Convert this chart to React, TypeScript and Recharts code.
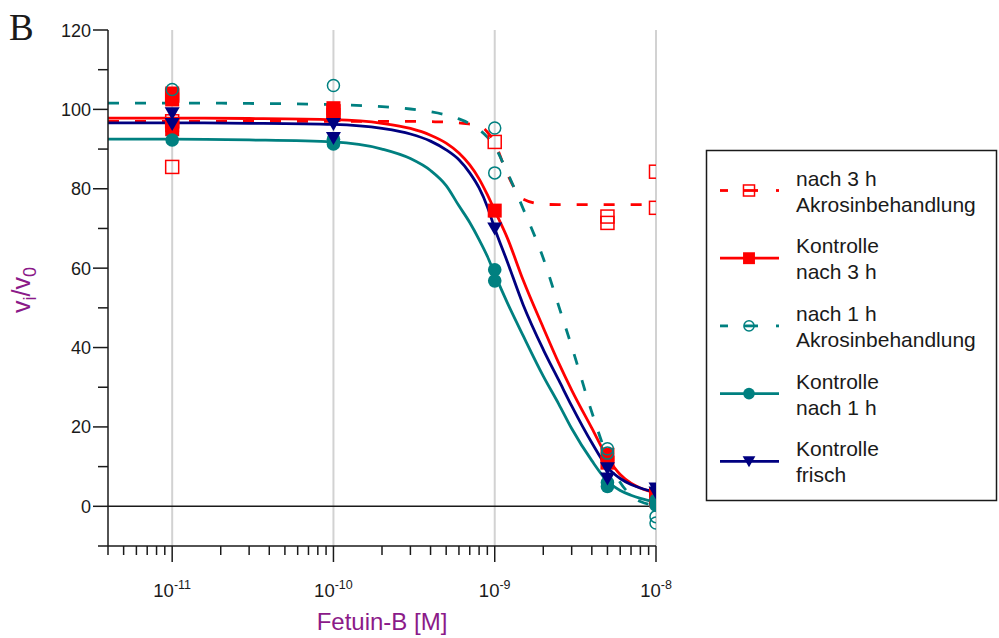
import React from 'react'
import { ComposedChart, Line, Scatter, XAxis, YAxis, ReferenceLine } from 'recharts'

const RED = '#ff0000'
const TEAL = '#008080'
const NAVY = '#000080'
const PURPLE = '#8b1a89'
const INK = '#1a1a1a'
const FONT = '"Liberation Sans", Arial, sans-serif'

// fitted curves at these concentrations [M]
const FIT_X = [
  4e-12, 1e-11, 3e-11, 1e-10, 2e-10, 3e-10, 4e-10, 5e-10, 6e-10, 7e-10, 8e-10, 9e-10,
  1e-9, 1.2e-9, 1.5e-9, 2e-9, 2.5e-9, 3e-9, 4e-9, 5e-9, 6e-9, 7e-9, 8e-9, 1e-8,
]
const FIT_AKRO_3H = [
  97.0, 97.0, 97.0, 97.0, 97.0, 97.0, 96.9, 96.8, 96.6, 96.3, 96.0, 94.3,
  91.5, 83.6, 77.4, 76.1, 76.0, 76.0, 76.0, 76.0, 76.0, 76.0, 76.0, 76.0,
]
const FIT_KONTROLLE_3H = [
  97.8, 97.8, 97.7, 97.4, 96.5, 95.2, 93.5, 91.5, 89.0, 86.0, 82.5, 78.5,
  74.5, 67.5, 57.0, 45.0, 36.0, 29.3, 19.7, 12.3, 8.0, 5.8, 4.6, 3.3,
]
const FIT_AKRO_1H = [
  101.6, 101.6, 101.5, 101.2, 100.7, 100.1, 99.4, 98.6, 97.6, 96.4, 94.9, 93.0,
  90.6, 84.0, 75.0, 62.5, 50.3, 40.3, 23.7, 12.5, 6.0, 2.8, 1.2, 0.3,
]
const FIT_KONTROLLE_1H = [
  92.5, 92.5, 92.3, 91.8, 90.0, 87.6, 84.6, 80.8, 75.7, 71.5, 67.2, 63.0,
  58.5, 51.2, 43.0, 32.8, 25.7, 19.6, 11.5, 6.3, 4.0, 2.8, 2.0, 1.0,
]
const FIT_FRISCH = [
  96.6, 96.6, 96.5, 96.2, 95.2, 93.8, 92.0, 89.8, 87.3, 84.0, 80.2, 75.5,
  70.0, 61.5, 50.8, 39.5, 31.7, 25.3, 16.0, 9.8, 7.0, 5.5, 4.6, 3.5,
]

// measured points [conc, vi/v0]
const PTS_AKRO_3H = [
  [1e-11, 85.5], [1e-11, 97.0], [1e-11, 103.5], [1e-10, 99.5],
  [1e-9, 91.8], [5e-9, 73.0], [5e-9, 71.4], [1e-8, 84.3], [1e-8, 75.2],
]
const PTS_KONTROLLE_3H = [
  [1e-11, 104.0], [1e-11, 102.5], [1e-11, 96.0], [1e-11, 95.0], [1e-10, 100.3], [1e-10, 98.6],
  [1e-9, 74.5], [5e-9, 13.0], [5e-9, 11.0], [1e-8, 3.0], [1e-8, 1.5],
]
const PTS_AKRO_1H = [
  [1e-11, 105.0], [1e-10, 106.0], [1e-9, 95.3], [1e-9, 84.0],
  [5e-9, 14.5], [5e-9, 13.4], [1e-8, -2.6], [1e-8, -4.2],
]
const PTS_KONTROLLE_1H = [
  [1e-11, 92.3], [1e-10, 92.5], [1e-10, 91.3], [1e-9, 59.6], [1e-9, 56.8],
  [5e-9, 6.0], [5e-9, 5.0], [1e-8, 1.5], [1e-8, 0.3],
]
const PTS_FRISCH = [
  [1e-11, 99.0], [1e-11, 96.3], [1e-10, 96.3], [1e-10, 92.8], [1e-9, 70.0],
  [5e-9, 9.6], [5e-9, 7.0], [1e-8, 4.5], [1e-8, 3.5],
]

const X_DECADES = [1e-11, 1e-10, 1e-9, 1e-8]
const X_EXPONENTS = [-12, -11, -10, -9]
const X_MANTISSAS = [1, 2, 3, 4, 5, 6, 7, 8, 9]
const X_TICKS = [
  ...X_EXPONENTS.flatMap((e) => X_MANTISSAS.map((m) => m * Math.pow(10, e))).filter((v) => v >= 4e-12 * 0.999),
  1e-8,
]
const Y_TICKS = [-10, 0, 10, 20, 30, 40, 50, 60, 70, 80, 90, 100, 110, 120]
const Y_LABELED = [0, 20, 40, 60, 80, 100, 120]

type MarkerKind = 'openSquare' | 'square' | 'openCircle' | 'circle' | 'triangle'

const SERIES: {
  key: string
  lines: string[]
  color: string
  dashed: boolean
  marker: MarkerKind
  fit: number[]
  points: number[][]
}[] = [
  { key: 'akro3h', lines: ['nach 3 h', 'Akrosinbehandlung'], color: RED, dashed: true, marker: 'openSquare', fit: FIT_AKRO_3H, points: PTS_AKRO_3H },
  { key: 'kontrolle3h', lines: ['Kontrolle', 'nach 3 h'], color: RED, dashed: false, marker: 'square', fit: FIT_KONTROLLE_3H, points: PTS_KONTROLLE_3H },
  { key: 'akro1h', lines: ['nach 1 h', 'Akrosinbehandlung'], color: TEAL, dashed: true, marker: 'openCircle', fit: FIT_AKRO_1H, points: PTS_AKRO_1H },
  { key: 'kontrolle1h', lines: ['Kontrolle', 'nach 1 h'], color: TEAL, dashed: false, marker: 'circle', fit: FIT_KONTROLLE_1H, points: PTS_KONTROLLE_1H },
  { key: 'frisch', lines: ['Kontrolle', 'frisch'], color: NAVY, dashed: false, marker: 'triangle', fit: FIT_FRISCH, points: PTS_FRISCH },
]

const fitRows = FIT_X.map((x, i) => {
  const row: Record<string, number> = { x }
  SERIES.forEach((s) => {
    row[s.key] = s.fit[i]
  })
  return row
})

function Marker({ kind, cx, cy, color, scale = 1 }: { kind: MarkerKind; cx: number; cy: number; color: string; scale?: number }) {
  const s = scale
  switch (kind) {
    case 'openSquare':
      return <rect x={cx - 6.5 * s} y={cy - 6.5 * s} width={13 * s} height={13 * s} fill="none" stroke={color} strokeWidth={1.5} />
    case 'square':
      return <rect x={cx - 7 * s} y={cy - 7 * s} width={14 * s} height={14 * s} fill={color} />
    case 'openCircle':
      return <circle cx={cx} cy={cy} r={6 * s} fill="none" stroke={color} strokeWidth={1.5} />
    case 'circle':
      return <circle cx={cx} cy={cy} r={6.8 * s} fill={color} />
    default:
      return (
        <path
          d={`M${cx - 7.5 * s},${cy - 6 * s} L${cx + 7.5 * s},${cy - 6 * s} L${cx},${cy + 7 * s} Z`}
          fill={color}
        />
      )
  }
}

function XTick(props: any) {
  const { x, y, payload } = props
  const v = payload.value as number
  const exp = Math.round(Math.log10(v))
  const major = Math.abs(Math.log10(v) - exp) < 1e-6
  return (
    <g>
      <line x1={x} x2={x} y1={y} y2={y + (major ? 16 : 9)} stroke={INK} strokeWidth={1.5} />
      {major && (
        <text x={x} y={y + 51} textAnchor="middle" fontSize={18.5} fill={INK} fontFamily={FONT}>
          10
          <tspan dy={-8} fontSize={12.5}>
            {`${exp}`}
          </tspan>
        </text>
      )}
    </g>
  )
}

function YTick(props: any) {
  const { x, y, payload } = props
  const v = payload.value as number
  const major = Y_LABELED.includes(v)
  return (
    <g>
      <line x1={x - (major ? 15 : 10)} x2={x} y1={y} y2={y} stroke={INK} strokeWidth={1.5} />
      {major && (
        <text x={x - 17} y={y + 6.5} textAnchor="end" fontSize={18} fill={INK} fontFamily={FONT}>
          {v}
        </text>
      )}
    </g>
  )
}

function Legend() {
  const top = 190.5
  const step = 67.7
  return (
    <svg width={999} height={638} style={{ position: 'absolute', left: 0, top: 0, pointerEvents: 'none' }}>
      <rect x={706.5} y={150.5} width={290} height={350} fill="none" stroke={INK} strokeWidth={1.5} />
      {SERIES.map((s, i) => {
        const cy = top + i * step
        return (
          <g key={s.key}>
            {s.dashed ? (
              <g stroke={s.color} strokeWidth={2.8}>
                <line x1={720} x2={728} y1={cy} y2={cy} />
                <line x1={744} x2={758} y1={cy} y2={cy} />
                <line x1={776} x2={779} y1={cy} y2={cy} />
              </g>
            ) : (
              <line x1={720} x2={779} y1={cy} y2={cy} stroke={s.color} strokeWidth={2.8} />
            )}
            <Marker kind={s.marker} cx={749} cy={cy} color={s.color} scale={0.85} />
            <text x={796} y={cy - 5} fontSize={21} fill={INK} fontFamily={FONT}>
              {s.lines[0]}
            </text>
            <text x={796} y={cy + 21} fontSize={21} fill={INK} fontFamily={FONT}>
              {s.lines[1]}
            </text>
          </g>
        )
      })}
      <text x={9} y={40} fontSize={37} fill={INK} fontFamily='"Liberation Serif", "Times New Roman", serif'>
        B
      </text>
    </svg>
  )
}

export default function App() {
  return (
    <div style={{ position: 'absolute', left: 0, top: 0, width: 999, height: 638, background: '#fff' }}>
      <ComposedChart width={999} height={638} margin={{ top: 30, right: 343, bottom: 0, left: 0 }}>
        <XAxis
          dataKey="x"
          type="number"
          scale="log"
          domain={[4e-12, 1e-8]}
          allowDataOverflow
          ticks={X_TICKS}
          interval={0}
          tickSize={0}
          tickMargin={0}
          tick={(p: any) => <XTick {...p} />}
          height={92}
          axisLine={{ stroke: INK, strokeWidth: 1.5 }}
          label={{
            content: () => (
              <text x={382} y={630} textAnchor="middle" fontSize={24} fill={PURPLE} fontFamily={FONT}>
                Fetuin-B [M]
              </text>
            ),
          }}
        />
        <YAxis
          dataKey="y"
          type="number"
          domain={[-10, 120]}
          allowDataOverflow
          ticks={Y_TICKS}
          interval={0}
          tickSize={0}
          tickMargin={0}
          tick={(p: any) => <YTick {...p} />}
          width={108}
          axisLine={{ stroke: INK, strokeWidth: 1.5 }}
          label={{
            content: () => (
              <text
                x={30}
                y={290}
                transform="rotate(-90 30 290)"
                textAnchor="middle"
                fontSize={25}
                fill={PURPLE}
                fontFamily={FONT}
              >
                v<tspan dy={6} fontSize={18}>i</tspan>
                <tspan dy={-6}>/v</tspan>
                <tspan dy={6} fontSize={18}>0</tspan>
              </text>
            ),
          }}
        />
        {X_DECADES.map((d) => (
          <ReferenceLine key={d} x={d} stroke="#d2d2d2" strokeWidth={2} />
        ))}
        <ReferenceLine y={0} stroke={INK} strokeWidth={1.5} />
        {SERIES.map((s) => (
          <Line
            key={`fit-${s.key}`}
            data={fitRows}
            dataKey={s.key}
            type="monotone"
            stroke={s.color}
            strokeWidth={2.8}
            strokeDasharray={s.dashed ? '11 16' : undefined}
            dot={false}
            activeDot={false}
            isAnimationActive={false}
          />
        ))}
        {SERIES.map((s) => (
          <Scatter
            key={`pts-${s.key}`}
            data={s.points.map(([x, y]) => ({ x, y }))}
            shape={(p: any) => <Marker kind={s.marker} cx={p.cx} cy={p.cy} color={s.color} />}
            isAnimationActive={false}
          />
        ))}
      </ComposedChart>
      <Legend />
    </div>
  )
}
